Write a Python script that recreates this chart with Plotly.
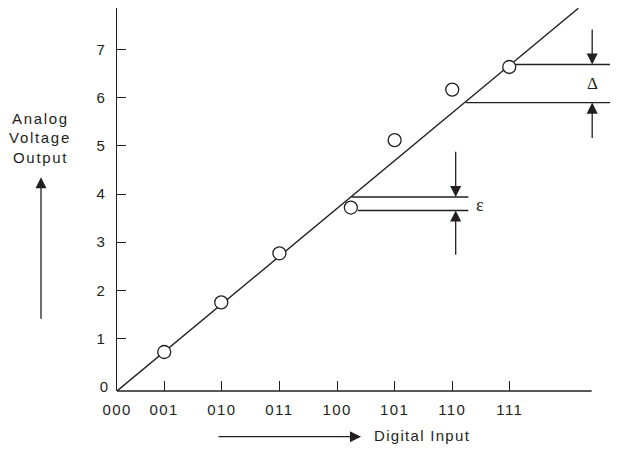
import plotly.graph_objects as go

# ---- data ----
code_labels = ["000", "001", "010", "011", "100", "101", "110", "111"]
code_pos = [0, 0.82, 1.82, 2.82, 3.82, 4.82, 5.82, 6.82]
y_ticks = [1, 2, 3, 4, 5, 6, 7]

point_x = [0.82, 1.81, 2.82, 4.06, 4.82, 5.82, 6.81]
point_y = [0.72, 1.75, 2.77, 3.72, 5.12, 6.17, 6.64]

ideal_x = [0, 8.01]
ideal_y = [-0.09, 7.86]

# error / step markers (level, x start, x end)
eps_levels = [3.94, 3.66]
eps_x0 = [4.07, 4.18]
eps_x1 = [6.10, 6.10]
delta_levels = [6.69, 5.90]
delta_x0 = [6.91, 6.06]
delta_x1 = [8.70, 8.70]

y_label_lines = ["Analog", "Voltage", "Output"]
y_label_pos = [5.58, 5.18, 4.75]

X_RANGE = [0, 8.698]
Y_RANGE = [-0.09, 7.865]

INK = "#231f20"
SANS = "Liberation Sans, Arial, sans-serif"
SERIF = "Liberation Serif, Times New Roman, serif"

# The page body has an 8px default margin, so the figure is laid out 8px smaller.
W, H = 610, 441
ML, MT, MB = 109, 0, 58
PLOT_H = H - MT - MB


def spaced(t, ls=1.4):
    return f'<span style="letter-spacing:{ls}px">{t}</span>'


fig = go.Figure()

fig.add_trace(go.Scatter(x=ideal_x, y=ideal_y, mode="lines",
                         line=dict(color=INK, width=1.4), hoverinfo="skip"))
fig.add_trace(go.Scatter(x=point_x, y=point_y, mode="markers",
                         marker=dict(symbol="circle", size=13, color="white",
                                     line=dict(color=INK, width=1.3)),
                         hoverinfo="skip"))
# helper trace for the secondary axis carrying the "0" label
fig.add_trace(go.Scatter(x=[None], y=[None], yaxis="y2", showlegend=False))

shapes = []
for lv, a, b in zip(eps_levels + delta_levels, eps_x0 + delta_x0, eps_x1 + delta_x1):
    shapes.append(dict(type="line", xref="x", yref="y", x0=a, x1=b, y0=lv, y1=lv,
                       line=dict(color=INK, width=1.4)))
# x axis line (ends before the right edge)
shapes.append(dict(type="line", xref="x", yref="paper", x0=0, x1=8.24, y0=0, y1=0,
                   line=dict(color=INK, width=1.4)))

annotations = []


def arrow(x, y_tip, y_tail):
    annotations.append(dict(x=x, y=y_tip, ax=x, ay=y_tail, xref="x", yref="y",
                            axref="x", ayref="y", text="", showarrow=True,
                            arrowhead=2, arrowsize=1.7, arrowwidth=1.3,
                            arrowcolor=INK, standoff=0))


arrow(5.88, eps_levels[0], 4.91)
arrow(5.88, eps_levels[1], 2.71)
arrow(8.25, delta_levels[0], 7.45)
arrow(8.25, delta_levels[1], 5.135)

annotations.append(dict(x=6.30, y=3.77, xref="x", yref="y", text="ε", showarrow=False,
                        font=dict(family=SERIF, size=18, color=INK)))
annotations.append(dict(x=8.26, y=6.30, xref="x", yref="y", text="Δ", showarrow=False,
                        font=dict(family=SERIF, size=17, color=INK)))

# Analog voltage output label + arrow
for line, yv in zip(y_label_lines, y_label_pos):
    annotations.append(dict(x=-77 / 501, y=yv, xref="paper", yref="y",
                            xanchor="center", yanchor="middle", text=spaced(line, 1.7),
                            showarrow=False,
                            font=dict(family=SANS, size=15, color=INK)))
annotations.append(dict(x=-76 / 501, y=4.35, xref="paper", yref="y", ax=0, ay=143,
                        axref="pixel", ayref="pixel", text="", showarrow=True,
                        arrowhead=2, arrowsize=1.7, arrowwidth=1.3, arrowcolor=INK,
                        standoff=0))

# Digital input label + arrow
annotations.append(dict(x=4.236, y=-45.7 / PLOT_H, xref="x", yref="paper", ax=-144, ay=0,
                        axref="pixel", ayref="pixel", text="", showarrow=True,
                        arrowhead=2, arrowsize=1.7, arrowwidth=1.3, arrowcolor=INK,
                        standoff=0))
annotations.append(dict(x=4.42, y=-44.5 / PLOT_H, xref="x", yref="paper",
                        xanchor="left", yanchor="middle",
                        text=spaced("Digital Input", 1.3), showarrow=False,
                        font=dict(family=SANS, size=15, color=INK)))

fig.update_layout(
    width=W, height=H,
    margin=dict(l=ML, r=0, t=MT, b=MB, autoexpand=False),
    paper_bgcolor="white", plot_bgcolor="white",
    showlegend=False,
    font=dict(family=SANS, size=15, color=INK),
    xaxis=dict(range=X_RANGE, showgrid=False, zeroline=False, showline=False,
               tickmode="array", tickvals=code_pos,
               ticktext=[spaced(t) for t in code_labels],
               ticks="inside", ticklen=10, tickwidth=1.3, tickcolor=INK,
               ticklabelstandoff=8, fixedrange=True, automargin=False),
    yaxis=dict(range=Y_RANGE, showgrid=False, zeroline=False, showline=True,
               linecolor=INK, linewidth=1.4,
               tickmode="array", tickvals=y_ticks,
               ticktext=[str(v) for v in y_ticks],
               ticks="inside", ticklen=9, tickwidth=1.3, tickcolor=INK,
               ticklabelstandoff=8, fixedrange=True, automargin=False),
    yaxis2=dict(range=Y_RANGE, overlaying="y", side="left", showgrid=False,
                zeroline=False, showline=False, tickmode="array", tickvals=[0],
                ticktext=["0"], ticks="", ticklabelstandoff=8, fixedrange=True,
                automargin=False),
    shapes=shapes,
    annotations=annotations,
)

fig.write_html("out.html")
